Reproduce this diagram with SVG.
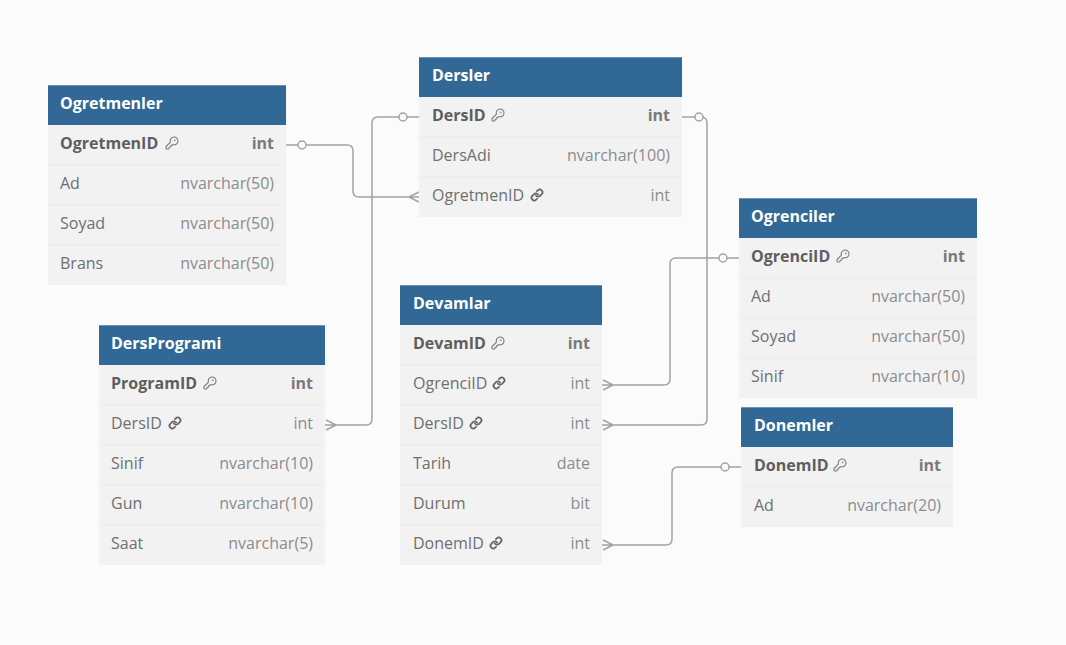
<svg xmlns="http://www.w3.org/2000/svg" xmlns:xlink="http://www.w3.org/1999/xlink" width="1066" height="645" viewBox="0 0 1066 645">
<style>
.hdr{fill:#316896}
.hdrline{stroke:#6a93b8;stroke-width:1}
.body{fill:#f2f2f2}
.sep{stroke:#ebebeb;stroke-width:1}
text{font-family:"Open Sans","Noto Sans","DejaVu Sans",sans-serif;font-size:16px}
.title{font-weight:bold;fill:#ffffff}
.pk{font-weight:bold;fill:#5e5e5e}
.fn{fill:#6f6f6f}
.ty{fill:#8c8c8c;text-anchor:end}
.tyb{fill:#7a7a7a;font-weight:bold;text-anchor:end}
.conn{fill:none;stroke:#a3a3a7;stroke-width:1.5}
.dot{fill:#fbfbfb;stroke:#a3a3a7;stroke-width:1.5}
.ico{fill:none;stroke-linecap:round;stroke-linejoin:round}
</style>
<defs>
<g id="key" class="ico" stroke="#7a7a7a" stroke-width="1.8" transform="scale(0.6)">
<path d="M2.586 17.414A2 2 0 0 0 2 18.828V21a1 1 0 0 0 1 1h3a1 1 0 0 0 1-1v-1a1 1 0 0 1 1-1h1a1 1 0 0 0 1-1v-1a1 1 0 0 1 1-1h.172a2 2 0 0 0 1.414-.586l.814-.814a6.5 6.5 0 1 0-4-4z"/>
<circle cx="16.5" cy="7.5" r=".5"/>
</g>
<g id="link" class="ico" stroke="#666666" stroke-width="3.2" transform="scale(0.55)">
<path d="M10 13a5 5 0 0 0 7.54.54l3-3a5 5 0 0 0-7.07-7.07l-1.72 1.71"/>
<path d="M14 11a5 5 0 0 0-7.54-.54l-3 3a5 5 0 0 0 7.07 7.07l1.71-1.71"/>
</g>
</defs>
<rect x="0" y="0" width="1066" height="645" fill="#fbfbfb"/>

<g id="connectors">
<path class="conn" d="M286,145 H347 Q353,145 353,151 V191 Q353,197 359,197 H419 M409,197 L419,192 M409,197 L419,202"/>
<circle class="dot" cx="302" cy="145" r="4"/>
<path class="conn" d="M419,117 H378 Q372,117 372,123 V419 Q372,425 366,425 H325 M336,425 L326,420 M336,425 L326,430"/>
<circle class="dot" cx="403" cy="117" r="4"/>
<path class="conn" d="M682,117 H701 Q707,117 707,123 V419 Q707,425 701,425 H602 M613,425 L603,420 M613,425 L603,430"/>
<circle class="dot" cx="699" cy="117" r="4"/>
<path class="conn" d="M739,258 H676 Q670,258 670,264 V379 Q670,385 664,385 H602 M613,385 L603,380 M613,385 L603,390"/>
<circle class="dot" cx="723" cy="258" r="4"/>
<path class="conn" d="M741,467 H678 Q672,467 672,473 V539 Q672,545 666,545 H602 M613,545 L603,540 M613,545 L603,550"/>
<circle class="dot" cx="725" cy="467" r="4"/>
</g>

<g id="Ogretmenler">
<rect class="body" x="48" y="85" width="238" height="200"/>
<rect class="hdr" x="48" y="85" width="238" height="40"/>
<line class="hdrline" x1="48" y1="85.5" x2="286" y2="85.5"/>
<line class="sep" x1="48" y1="165" x2="286" y2="165"/>
<line class="sep" x1="48" y1="205" x2="286" y2="205"/>
<line class="sep" x1="48" y1="245" x2="286" y2="245"/>
<text class="title" x="60" y="109">Ogretmenler</text>
<text class="pk" x="60" y="149">OgretmenID</text>
<use xlink:href="#key" x="164.8" y="135.8"/>
<text class="tyb" x="274" y="149">int</text>
<text class="fn" x="60" y="189">Ad</text>
<text class="ty" x="274" y="189">nvarchar(50)</text>
<text class="fn" x="60" y="229">Soyad</text>
<text class="ty" x="274" y="229">nvarchar(50)</text>
<text class="fn" x="60" y="269">Brans</text>
<text class="ty" x="274" y="269">nvarchar(50)</text>
</g>

<g id="Dersler">
<rect class="body" x="419" y="57" width="263" height="160"/>
<rect class="hdr" x="419" y="57" width="263" height="40"/>
<line class="hdrline" x1="419" y1="57.5" x2="682" y2="57.5"/>
<line class="sep" x1="419" y1="137" x2="682" y2="137"/>
<line class="sep" x1="419" y1="177" x2="682" y2="177"/>
<text class="title" x="432" y="81">Dersler</text>
<text class="pk" x="432" y="121">DersID</text>
<use xlink:href="#key" x="490.8" y="107.8"/>
<text class="tyb" x="670" y="121">int</text>
<text class="fn" x="432" y="161">DersAdi</text>
<text class="ty" x="670" y="161">nvarchar(100)</text>
<text class="fn" x="432" y="201">OgretmenID</text>
<use xlink:href="#link" x="530.4" y="188.4"/>
<text class="ty" x="670" y="201">int</text>
</g>

<g id="Ogrenciler">
<rect class="body" x="739" y="198" width="238" height="200"/>
<rect class="hdr" x="739" y="198" width="238" height="40"/>
<line class="hdrline" x1="739" y1="198.5" x2="977" y2="198.5"/>
<line class="sep" x1="739" y1="278" x2="977" y2="278"/>
<line class="sep" x1="739" y1="318" x2="977" y2="318"/>
<line class="sep" x1="739" y1="358" x2="977" y2="358"/>
<text class="title" x="751" y="222">Ogrenciler</text>
<text class="pk" x="751" y="262">OgrenciID</text>
<use xlink:href="#key" x="835.8" y="248.8"/>
<text class="tyb" x="965" y="262">int</text>
<text class="fn" x="751" y="302">Ad</text>
<text class="ty" x="965" y="302">nvarchar(50)</text>
<text class="fn" x="751" y="342">Soyad</text>
<text class="ty" x="965" y="342">nvarchar(50)</text>
<text class="fn" x="751" y="382">Sinif</text>
<text class="ty" x="965" y="382">nvarchar(10)</text>
</g>

<g id="DersProgrami">
<rect class="body" x="99" y="325" width="226" height="240"/>
<rect class="hdr" x="99" y="325" width="226" height="40"/>
<line class="hdrline" x1="99" y1="325.5" x2="325" y2="325.5"/>
<line class="sep" x1="99" y1="405" x2="325" y2="405"/>
<line class="sep" x1="99" y1="445" x2="325" y2="445"/>
<line class="sep" x1="99" y1="485" x2="325" y2="485"/>
<line class="sep" x1="99" y1="525" x2="325" y2="525"/>
<text class="title" x="111" y="349">DersProgrami</text>
<text class="pk" x="111" y="389">ProgramID</text>
<use xlink:href="#key" x="202.8" y="375.8"/>
<text class="tyb" x="313" y="389">int</text>
<text class="fn" x="111" y="429">DersID</text>
<use xlink:href="#link" x="168.4" y="416.4"/>
<text class="ty" x="313" y="429">int</text>
<text class="fn" x="111" y="469">Sinif</text>
<text class="ty" x="313" y="469">nvarchar(10)</text>
<text class="fn" x="111" y="509">Gun</text>
<text class="ty" x="313" y="509">nvarchar(10)</text>
<text class="fn" x="111" y="549">Saat</text>
<text class="ty" x="313" y="549">nvarchar(5)</text>
</g>

<g id="Devamlar">
<rect class="body" x="400" y="285" width="202" height="280"/>
<rect class="hdr" x="400" y="285" width="202" height="40"/>
<line class="hdrline" x1="400" y1="285.5" x2="602" y2="285.5"/>
<line class="sep" x1="400" y1="365" x2="602" y2="365"/>
<line class="sep" x1="400" y1="405" x2="602" y2="405"/>
<line class="sep" x1="400" y1="445" x2="602" y2="445"/>
<line class="sep" x1="400" y1="485" x2="602" y2="485"/>
<line class="sep" x1="400" y1="525" x2="602" y2="525"/>
<text class="title" x="413" y="309">Devamlar</text>
<text class="pk" x="413" y="349">DevamID</text>
<use xlink:href="#key" x="490.8" y="335.8"/>
<text class="tyb" x="590" y="349">int</text>
<text class="fn" x="413" y="389">OgrenciID</text>
<use xlink:href="#link" x="492.4" y="376.4"/>
<text class="ty" x="590" y="389">int</text>
<text class="fn" x="413" y="429">DersID</text>
<use xlink:href="#link" x="469.4" y="416.4"/>
<text class="ty" x="590" y="429">int</text>
<text class="fn" x="413" y="469">Tarih</text>
<text class="ty" x="590" y="469">date</text>
<text class="fn" x="413" y="509">Durum</text>
<text class="ty" x="590" y="509">bit</text>
<text class="fn" x="413" y="549">DonemID</text>
<use xlink:href="#link" x="489.4" y="536.4"/>
<text class="ty" x="590" y="549">int</text>
</g>

<g id="Donemler">
<rect class="body" x="741" y="407" width="212" height="120"/>
<rect class="hdr" x="741" y="407" width="212" height="40"/>
<line class="hdrline" x1="741" y1="407.5" x2="953" y2="407.5"/>
<line class="sep" x1="741" y1="487" x2="953" y2="487"/>
<text class="title" x="754" y="431">Donemler</text>
<text class="pk" x="754" y="471">DonemID</text>
<use xlink:href="#key" x="832.8" y="457.8"/>
<text class="tyb" x="941" y="471">int</text>
<text class="fn" x="754" y="511">Ad</text>
<text class="ty" x="941" y="511">nvarchar(20)</text>
</g>
</svg>
